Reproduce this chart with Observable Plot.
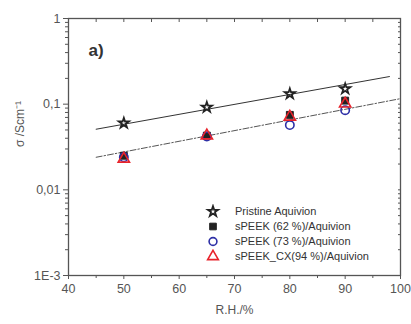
<!DOCTYPE html>
<html><head><meta charset="utf-8">
<script src="https://cdn.jsdelivr.net/npm/d3@7"></script>
<script src="https://cdn.jsdelivr.net/npm/@observablehq/plot@0.6"></script>
<style>
body{margin:0;background:#fff;font-family:"Liberation Sans",Arial,sans-serif;}
#wrap{position:relative;width:411px;height:324px;}
#legend{position:absolute;left:204px;top:204px;font-size:11px;color:#333;line-height:15px;}
#legend div{display:flex;align-items:center;height:15px;}
#legend svg{width:18px;height:15px;margin-right:13px;}
</style></head>
<body><div id="wrap"><div id="legend"></div></div>
<script>
const rh = [50, 65, 80, 90];
const pristine = [0.060, 0.092, 0.132, 0.151];
const speek62 = [0.025, 0.043, 0.075, 0.110];
const speek73 = [0.024, 0.042, 0.057, 0.085];
const speekCX = [0.023, 0.043, 0.071, 0.101];
const fitPristineX = [45, 98];
const fitPristineY = [0.051, 0.21];
const fitOthersX = [45, 100];
const fitOthersY = [0.024, 0.116];
const seriesNames = ["Pristine Aquivion", "sPEEK (62 %)/Aquivion", "sPEEK (73 %)/Aquivion", "sPEEK_CX(94 %)/Aquivion"];
const xTicks = [40, 50, 60, 70, 80, 90, 100];
const xMinor = [45, 55, 65, 75, 85, 95];
const yTicks = [0.001, 0.01, 0.1, 1];
const yTickLabels = ["1E-3", "0,01", "0,1", "1"];
const yMinor = [2,3,4,5,6,7,8,9].flatMap(m => [0.001, 0.01, 0.1].map(d => m * d));

const styles = [
  {symbol: "star", fill: "none", stroke: "#222", r: 3.2, sw: 1.8, sym: d3.symbolStar, size: 32},
  {symbol: "square", fill: "#222", stroke: "#222", r: 3.9, sw: 1, sym: d3.symbolSquare, size: 44},
  {symbol: "circle", fill: "none", stroke: "#2d2fa6", r: 4.2, sw: 1.6, sym: d3.symbolCircle, size: 48},
  {symbol: "triangle", fill: "none", stroke: "#e8232b", r: 4.2, sw: 1.6, sym: d3.symbolTriangle, size: 50}
];
const seriesVals = [pristine, speek62, speek73, speekCX];
const pts = seriesVals.map(v => rh.map((x, i) => ({x, y: v[i]})));
const fit1 = fitPristineX.map((x, i) => ({x, y: fitPristineY[i]}));
const fit2 = fitOthersX.map((x, i) => ({x, y: fitOthersY[i]}));
const fmt = d => yTickLabels[yTicks.indexOf(d)];
const axisColor = "#555";

const chart = Plot.plot({
  width: 411, height: 324,
  marginLeft: 68, marginRight: 11, marginTop: 18, marginBottom: 49,
  style: {fontFamily: "Liberation Sans, Arial, sans-serif", fontSize: "12.5px", color: "#555", background: "#fff"},
  x: {domain: [40, 100]},
  y: {type: "log", domain: [0.001, 1]},
  marks: [
    Plot.frame({stroke: axisColor, strokeWidth: 1.3}),
    Plot.axisX({ticks: xTicks, tickSize: 4, tickPadding: 5, label: null, stroke: axisColor}),
    Plot.axisX({ticks: xMinor, tickSize: 3, tickFormat: () => "", label: null, stroke: axisColor}),
    Plot.axisX({anchor: "top", ticks: xTicks.concat(xMinor), tickSize: -3, tickFormat: () => "", label: null, stroke: axisColor}),
    Plot.axisY({ticks: yTicks, tickFormat: fmt, tickSize: 5, tickPadding: 3, label: null, stroke: axisColor}),
    Plot.axisY({ticks: yMinor, tickSize: 3, tickFormat: () => "", label: null, stroke: axisColor}),
    Plot.axisY({anchor: "right", ticks: yTicks.concat(yMinor), tickSize: -3, tickFormat: () => "", label: null, stroke: axisColor}),
    Plot.text(["R.H./%"], {frameAnchor: "bottom", dy: 38, fontSize: 12, fill: "#555"}),
    Plot.text(["σ /Scm⁻¹"], {frameAnchor: "left", dx: -48, rotate: -90, fontSize: 12, fill: "#555"}),
    Plot.text(["a)"], {frameAnchor: "top-left", dx: 20, dy: 25, fontSize: 17, fontWeight: "bold", fill: "#333"}),
    Plot.line(fit1, {x: "x", y: "y", stroke: "#333", strokeWidth: 1}),
    Plot.line(fit2, {x: "x", y: "y", stroke: "#555", strokeWidth: 1, strokeDasharray: "6,2,1.5,2"}),
    ...pts.map((p, i) => Plot.dot(p, {x: "x", y: "y", symbol: () => styles[i].symbol, r: styles[i].r, fill: styles[i].fill, stroke: styles[i].stroke, strokeWidth: styles[i].sw}))
  ]
});
document.getElementById("wrap").prepend(chart);
chart.style.display = "block";

const leg = d3.select("#legend");
seriesNames.forEach((name, i) => {
  const s = styles[i];
  const row = leg.append("div");
  const svg = row.append("svg");
  svg.append("path").attr("transform", "translate(9,7.5)")
    .attr("d", d3.symbol(s.sym, s.size)())
    .attr("fill", s.fill).attr("stroke", s.stroke).attr("stroke-width", s.sw);
  row.append("span").text(name);
});
</script></body></html>
